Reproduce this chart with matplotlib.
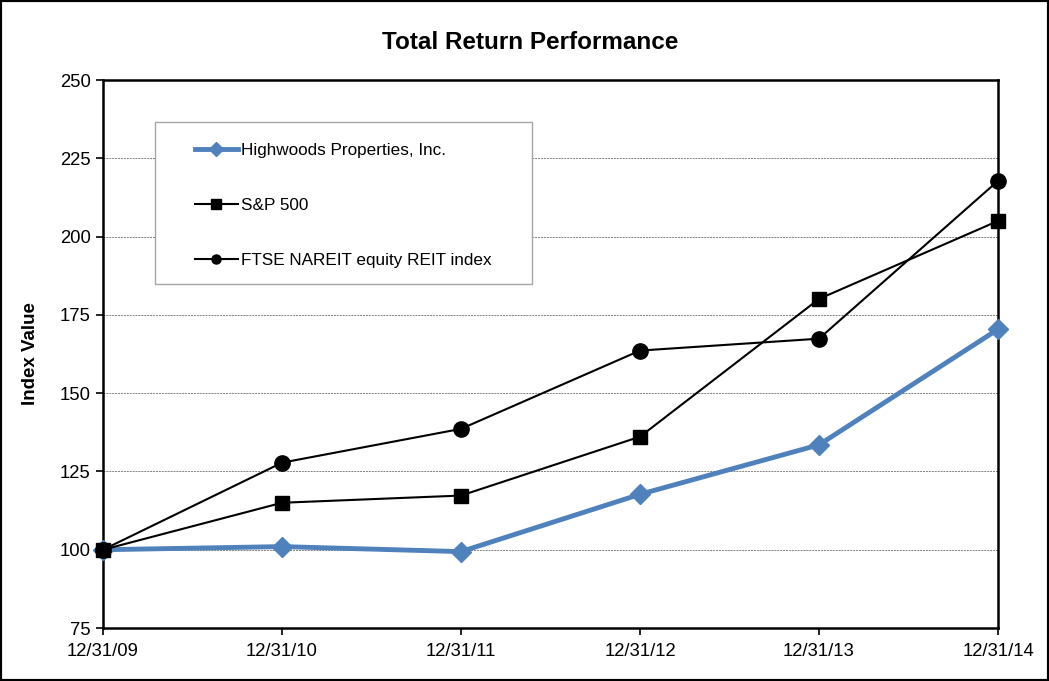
import matplotlib
matplotlib.use("Agg")
import matplotlib.pyplot as plt
from matplotlib.patches import Rectangle
from matplotlib.lines import Line2D

plt.rcParams['font.family'] = ['Liberation Sans', 'DejaVu Sans']

dates = ["12/31/09", "12/31/10", "12/31/11", "12/31/12", "12/31/13", "12/31/14"]
highwoods = [100.0, 101.0, 99.4, 117.7, 133.5, 170.4]
sp500 = [100.0, 115.0, 117.3, 136.1, 180.1, 205.0]
ftse_nareit = [100.0, 127.8, 138.6, 163.6, 167.4, 217.8]

blue = '#4F81BD'

fig = plt.figure(figsize=(10.49, 6.81), dpi=100)
ax = fig.add_axes([0.0982, 0.0778, 0.8532, 0.8047])

x = range(len(dates))

# gridlines behind everything
ax.set_axisbelow(True)
ax.yaxis.grid(True, linestyle=(0, (2, 1)), color='#808080', linewidth=0.7)

# blue series underneath so the S&P square shows on top at the start point
ax.plot(x, highwoods, color=blue, lw=3.5, marker='D', ms=10, clip_on=False, zorder=3.5)
ax.plot(x, ftse_nareit, color='black', lw=1.5, marker='o', ms=11, clip_on=False, zorder=4)
ax.plot(x, sp500, color='black', lw=1.5, marker='s', ms=10.5, clip_on=False, zorder=4.5)

ax.set_xlim(0, len(dates) - 1)
ax.set_ylim(75, 250)
ax.set_yticks(range(75, 251, 25))
ax.set_xticks(list(x))
ax.set_xticklabels(dates)
ax.tick_params(axis='both', direction='out', length=5, width=1.2, labelsize=13.3)
ax.tick_params(axis='x', pad=6)
ax.tick_params(axis='y', pad=4)
for s in ax.spines.values():
    s.set_linewidth(1.8)

ax.set_ylabel("Index Value", fontsize=13.5, fontweight='bold', labelpad=15)
fig.text(0.5055, 0.938, "Total Return Performance", ha='center', va='center',
         fontsize=17.5, fontweight='bold')

# legend box
box = Rectangle((0.058, 0.628), 0.421, 0.295, transform=ax.transAxes,
                facecolor='white', edgecolor='#A6A6A6', lw=1, zorder=3)
ax.add_patch(box)

handles = [
    Line2D([], [], color=blue, lw=3.5, marker='D', ms=7.5),
    Line2D([], [], color='black', lw=1.5, marker='s', ms=6.5),
    Line2D([], [], color='black', lw=1.5, marker='o', ms=6.5),
]
labels = ["Highwoods Properties, Inc.", "S&P 500", "FTSE NAREIT equity REIT index"]
leg = ax.legend(handles, labels, loc='upper left', bbox_to_anchor=(0.1028, 0.885),
                frameon=False, fontsize=12.3, borderpad=0, borderaxespad=0,
                handlelength=2.5, handletextpad=0.2, labelspacing=2.35)
leg.set_zorder(6)

fig.patches.append(Rectangle((0, 0), 1, 1, transform=fig.transFigure, fill=False,
                             edgecolor='black', lw=3))

fig.savefig("out.png", dpi=100)
